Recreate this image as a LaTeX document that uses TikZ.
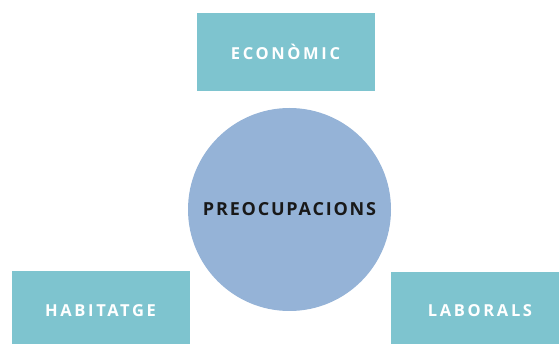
\documentclass[tikz,border=0pt]{standalone}
\usepackage{fontspec}
\setmainfont{Open Sans}
\newfontfamily\topicfont{Open Sans}[LetterSpace=16]
\newfontfamily\corefont{Open Sans}[LetterSpace=10]
\usetikzlibrary{positioning}
\definecolor{tealbox}{RGB}{126,196,207}
\definecolor{bluecirc}{RGB}{149,179,215}

\begin{document}
\begin{tikzpicture}[x=1pt,y=-1pt]
\tikzset{topic/.style={rectangle, align=center, minimum width=178pt, minimum height=78pt, inner sep=0pt, fill=tealbox, text=white, font=\topicfont\bfseries\fontsize{16.5}{19}\selectfont},
		core/.style={circle, align=center, minimum size=203pt, inner sep=0pt, fill=bluecirc, text=black!90, font=\corefont\bfseries\fontsize{18}{21}\selectfont}}
\useasboundingbox (0,0) rectangle (559,344);
\node[core] (PRE) at (289.5,209.5) {PREOCUPACIONS};
\node[topic, above=17pt of PRE, xshift=-4pt] (ECO) {ECONÒMIC};
\node[topic] (HAB) at (100.5,310.5) {HABITATGE};
\node[topic] (LAB) at (480,311) {LABORALS};
\end{tikzpicture}
\end{document}
